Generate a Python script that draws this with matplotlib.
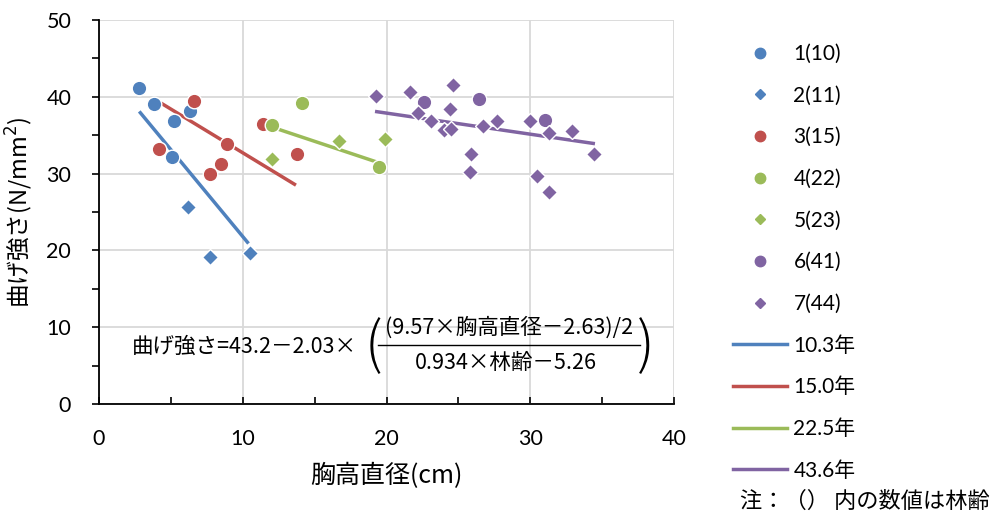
import matplotlib.pyplot as plt
from matplotlib.lines import Line2D
from matplotlib.patches import Rectangle

# データ
s1_x = [2.8, 3.8, 5.2, 5.1, 6.3]
s1_y = [41.2, 39.1, 36.9, 32.2, 38.1]
s2_x = [6.2, 7.7, 10.5]
s2_y = [25.6, 19.2, 19.6]
s3_x = [6.6, 4.2, 8.9, 8.5, 7.7, 11.4, 13.8]
s3_y = [39.5, 33.2, 33.8, 31.3, 29.9, 36.5, 32.6]
s4_x = [12.0, 14.1, 19.5]
s4_y = [36.3, 39.2, 30.9]
s5_x = [12.0, 16.7, 19.9]
s5_y = [31.9, 34.3, 34.5]
s6_x = [22.6, 26.4, 31.0]
s6_y = [39.3, 39.7, 37.0]
s7_x = [19.3, 21.6, 24.6, 22.2, 23.1, 24.4, 24.0, 24.5, 26.7, 27.7, 30.0,
        31.3, 32.9, 34.4, 25.9, 25.8, 30.5, 31.3]
s7_y = [40.1, 40.6, 41.5, 37.9, 36.9, 38.4, 35.7, 35.8, 36.2, 36.9, 36.8,
        35.3, 35.5, 32.6, 32.5, 30.2, 29.7, 27.6]

# 回帰線の両端
line_x = [[2.8, 10.4], [4.3, 13.7], [11.8, 19.5], [19.2, 34.5]]
line_y = [[38.1, 20.9], [39.2, 28.5], [36.2, 31.4], [38.1, 33.9]]
line_labels = ['10.3年', '15.0年', '22.5年', '43.6年']

blue = '#4F81BD'
red = '#C0504D'
green = '#9BBB59'
purple = '#8064A2'
line_colors = [blue, red, green, purple]

scatter_series = [
    (s1_x, s1_y, 'o', blue, '1(10)'),
    (s2_x, s2_y, 'D', blue, '2(11)'),
    (s3_x, s3_y, 'o', red, '3(15)'),
    (s4_x, s4_y, 'o', green, '4(22)'),
    (s5_x, s5_y, 'D', green, '5(23)'),
    (s6_x, s6_y, 'o', purple, '6(41)'),
    (s7_x, s7_y, 'D', purple, '7(44)'),
]

jp = ['Noto Sans CJK JP', 'DejaVu Sans']
num = ['Lato', 'Noto Sans CJK JP']

fig = plt.figure(figsize=(9.94, 5.15), dpi=100)
ax = fig.add_axes([0.0996, 0.2155, 0.5785, 0.7456])

# 回帰線
for lx, ly, c in zip(line_x, line_y, line_colors):
    ax.plot(lx, ly, color=c, lw=2.5, zorder=2, solid_capstyle='butt')

# 散布点
for xs, ys, m, c, lab in scatter_series:
    ms = 10.5 if m == 'o' else 8.3
    ax.plot(xs, ys, ls='none', marker=m, ms=ms, color=c, mec='white',
            mew=1.0, zorder=3)

ax.set_xlim(0, 40)
ax.set_ylim(0, 50)
ax.set_xticks([0, 10, 20, 30, 40])
ax.set_xticks([5, 15, 25, 35], minor=True)
ax.set_yticks([0, 10, 20, 30, 40, 50])
ax.set_yticks([5, 15, 25, 35, 45], minor=True)
ax.grid(True, which='major', color='#D9D9D9', lw=1.3)
ax.tick_params(axis='x', which='both', direction='in', length=5, width=1.2,
               pad=18, labelsize=15.5)
ax.tick_params(axis='y', which='both', direction='out', length=5, width=1.2,
               pad=15, labelsize=15.5)
for lab in ax.get_xticklabels() + ax.get_yticklabels():
    lab.set_family(num)
for sp in ['top', 'right']:
    ax.spines[sp].set_visible(False)
for sp in ['left', 'bottom']:
    ax.spines[sp].set_linewidth(1.3)
    ax.spines[sp].set_color('black')

ax.set_xlabel('胸高直径(cm)', family=jp, fontsize=18, labelpad=10)
ax.set_ylabel('曲げ強さ(N/mm$^2$)', family=jp, fontsize=17, labelpad=8)

# 数式（白背景）
ax.add_patch(Rectangle((1.0, 3.1), 38.0, 8.4, facecolor='white',
                       edgecolor='none', zorder=1))
fs = 15.5
ax.text(2.3, 7.5, '曲げ強さ=43.2－2.03×', family=jp, fontsize=fs,
        va='center', ha='left', zorder=4)
ax.text(19.1, 7.5, '(', family=jp, fontsize=40, fontweight='light',
        va='center', ha='center', zorder=4)
ax.text(38.0, 7.5, ')', family=jp, fontsize=40, fontweight='light',
        va='center', ha='center', zorder=4)
ax.text(28.5, 9.9, '(9.57×胸高直径－2.63)/2', family=jp, fontsize=fs,
        va='center', ha='center', zorder=4)
ax.text(28.3, 5.4, '0.934×林齢－5.26', family=jp, fontsize=fs,
        va='center', ha='center', zorder=4)
ax.plot([19.4, 37.6], [7.7, 7.7], color='black', lw=1.0, zorder=4)

# 凡例
handles = []
labels = []
for xs, ys, m, c, lab in scatter_series:
    ms = 7.5 if m == 'o' else 5.5
    handles.append(Line2D([], [], ls='none', marker=m, ms=ms, color=c))
    labels.append(lab)
for c, lab in zip(line_colors, line_labels):
    handles.append(Line2D([], [], color=c, lw=2.5))
    labels.append(lab)
leg = fig.legend(handles, labels, loc='upper left',
                 bbox_to_anchor=(733 / 994, 1 - 44 / 515),
                 frameon=False, handlelength=2.6, handletextpad=0.3,
                 labelspacing=1.04, borderpad=0, borderaxespad=0,
                 prop={'family': num, 'size': 15})

fig.text(990 / 994, 1 - 501 / 515, '注：（） 内の数値は林齢', family=jp,
         fontsize=16, ha='right', va='center')

fig.savefig('out.png', dpi=100)
